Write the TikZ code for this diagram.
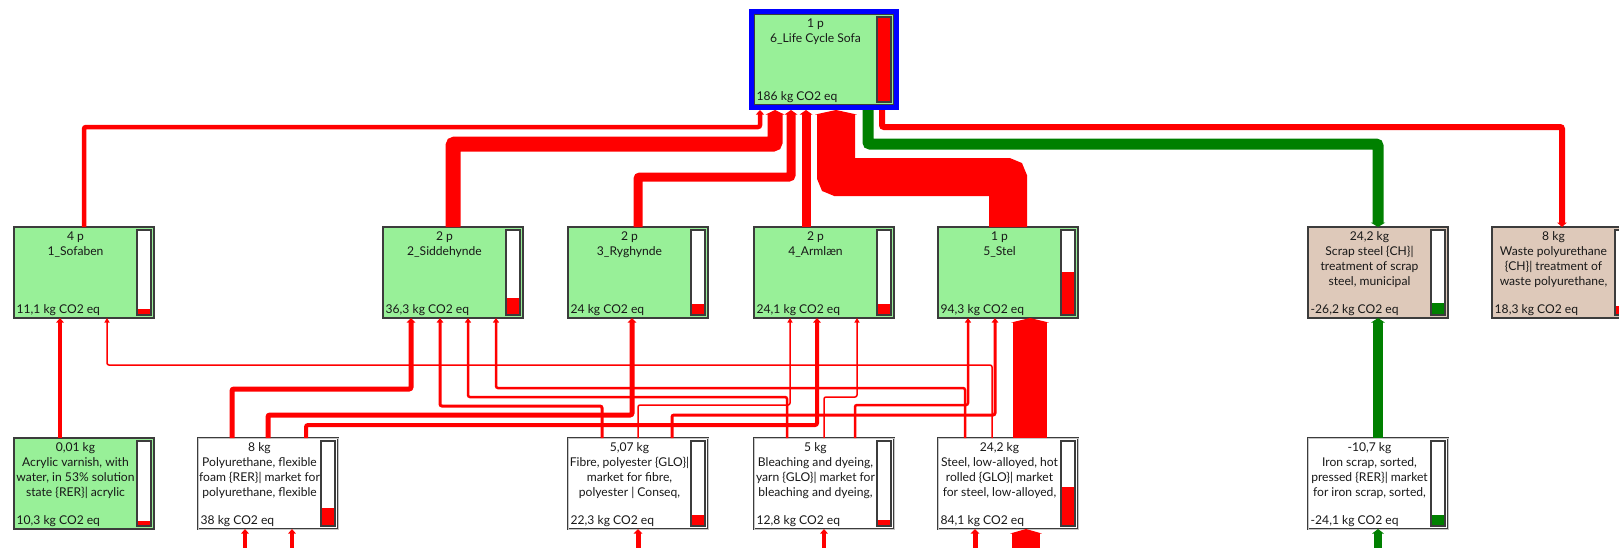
\documentclass[tikz,border=0pt]{standalone}
\usepackage{fontspec}
\setmainfont{Lato}
\usetikzlibrary{arrows.meta,fit}
\definecolor{flowred}{HTML}{FF0000}
\definecolor{flowgreen}{HTML}{008000}
\definecolor{procgreen}{HTML}{98F098}
\definecolor{proctan}{HTML}{DEC9BA}
\definecolor{boxline}{HTML}{3C3C3C}
\definecolor{frameblue}{HTML}{0000FF}
\definecolor{labeltext}{HTML}{181818}

\tikzset{
  proc/.style={draw=boxline, line width=1.4pt, fill=#1, minimum width=140pt,
    minimum height=91pt, inner sep=0pt, outer sep=0pt, anchor=north west},
  input/.style={proc=white, line width=0.7pt, double=white!55!gray, double distance=0.8pt},
  toptext/.style={anchor=north, xshift=-8.5pt, yshift=-4.5pt, inner sep=0pt, align=center,
    text=labeltext, font=\fontsize{12.1}{15}\selectfont, execute at begin node=\strut},
  valtext/.style={anchor=base west, xshift=2.5pt, yshift=4.5pt, inner sep=0pt,
    text=labeltext, font=\fontsize{12.1}{15}\selectfont},
  barline/.style={draw=boxline, line width=1.2pt},
  flow/.style={draw=flowred, line width=#1pt, rounded corners=2pt,
    -{Triangle[length=4.5pt,width=3.5pt 1]}},
  gflow/.style={flow=#1, draw=flowgreen},
}

% impact bar at the right of a box: name, filled height, colour
\newcommand{\impbar}[3]{%
  \draw[barline, fill=white] ([xshift=-17pt,yshift=-3pt]#1.north east) rectangle ([xshift=-3pt,yshift=3pt]#1.south east);
  \fill[#3] ([xshift=-16.4pt,yshift=3.6pt]#1.south east) rectangle ([xshift=-3.6pt,yshift=3.6pt+#2pt]#1.south east);
}

\begin{document}
\begin{tikzpicture}[x=1pt,y=-1pt]
  \useasboundingbox (0,0) rectangle (1619,547);
  \clip (0,0) rectangle (1619,547);

  % whole life cycle
  \node[proc=procgreen, label={[toptext]north:{1 p\\6\_Life Cycle Sofa}},
    label={[valtext]south west:{186 kg CO2 eq}}] (lcs) at (754,14) {};
  \node[fit=(lcs), inner sep=2.5pt, draw=frameblue, line width=5pt] (lcsf) {};
  \impbar{lcs}{83.6}{flowred}

  % assemblies and end of life
  \node[proc=procgreen, label={[toptext]north:{4 p\\1\_Sofaben}},
    label={[valtext]south west:{11,1 kg CO2 eq}}] (sofa) at (14,227) {};
  \node[proc=procgreen, label={[toptext]north:{2 p\\2\_Siddehynde}},
    label={[valtext]south west:{36,3 kg CO2 eq}}] (sidd) at (383,227) {};
  \node[proc=procgreen, label={[toptext]north:{2 p\\3\_Ryghynde}},
    label={[valtext]south west:{24 kg CO2 eq}}] (ryg) at (568,227) {};
  \node[proc=procgreen, label={[toptext]north:{2 p\\4\_Armlæn}},
    label={[valtext]south west:{24,1 kg CO2 eq}}] (arm) at (754,227) {};
  \node[proc=procgreen, label={[toptext]north:{1 p\\5\_Stel}},
    label={[valtext]south west:{94,3 kg CO2 eq}}] (stel) at (938,227) {};
  \node[proc=proctan, label={[toptext]north:{24,2 kg\\Scrap steel \{CH\}|\\treatment of scrap\\steel, municipal}},
    label={[valtext]south west:{-26,2 kg CO2 eq}}] (scrap) at (1308,227) {};
  \node[proc=proctan, label={[toptext]north:{8 kg\\Waste polyurethane\\\{CH\}| treatment of\\waste polyurethane,}},
    label={[valtext]south west:{18,3 kg CO2 eq}}] (waste) at (1492,227) {};
  \impbar{sofa}{5}{flowred}
  \impbar{sidd}{16.4}{flowred}
  \impbar{ryg}{10.8}{flowred}
  \impbar{arm}{10.9}{flowred}
  \impbar{stel}{42.6}{flowred}
  \impbar{scrap}{11.8}{flowgreen}
  \impbar{waste}{8.3}{flowred}

  % materials
  \node[proc=procgreen, label={[toptext]north:{0,01 kg\\Acrylic varnish, with\\water, in 53\% solution\\state \{RER\}| acrylic}},
    label={[valtext]south west:{10,3 kg CO2 eq}}] (acr) at (14,438) {};
  \node[input, label={[toptext]north:{8 kg\\Polyurethane, flexible\\foam \{RER\}| market for\\polyurethane, flexible}},
    label={[valtext]south west:{38 kg CO2 eq}}] (pu) at (198,438) {};
  \node[input, label={[toptext]north:{5,07 kg\\Fibre, polyester \{GLO\}|\\market for fibre,\\polyester | Conseq,}},
    label={[valtext]south west:{22,3 kg CO2 eq}}] (fib) at (568,438) {};
  \node[input, label={[toptext]north:{5 kg\\Bleaching and dyeing,\\yarn \{GLO\}| market for\\bleaching and dyeing,}},
    label={[valtext]south west:{12,8 kg CO2 eq}}] (blea) at (754,438) {};
  \node[input, label={[toptext]north:{24,2 kg\\Steel, low-alloyed, hot\\rolled \{GLO\}| market\\for steel, low-alloyed,}},
    label={[valtext]south west:{84,1 kg CO2 eq}}] (steel) at (938,438) {};
  \node[input, label={[toptext]north:{-10,7 kg\\Iron scrap, sorted,\\pressed \{RER\}| market\\for iron scrap, sorted,}},
    label={[valtext]south west:{-24,1 kg CO2 eq}}] (iron) at (1308,438) {};
  \impbar{acr}{4.7}{flowred}
  \impbar{pu}{17.2}{flowred}
  \impbar{fib}{10.1}{flowred}
  \impbar{blea}{5.8}{flowred}
  \impbar{steel}{38}{flowred}
  \impbar{iron}{10.9}{flowgreen}

  % into the life cycle
  \draw[flow=4.5] (sofa.north) |- ([xshift=-64pt,yshift=-17pt]lcsf.south) -- ([xshift=-64pt]lcsf.south);
  \draw[flow=15] (sidd.north) |- ([xshift=-49pt,yshift=-34pt]lcsf.south) -- ([xshift=-49pt]lcsf.south);
  \draw[flow=9] (ryg.north) |- ([xshift=-33pt,yshift=-67pt]lcsf.south) -- ([xshift=-33pt]lcsf.south);
  \draw[flow=9] ([xshift=-18pt]arm.north) -- ([xshift=-18pt]lcsf.south);
  \draw[flow=38] (stel.north) |- ([xshift=12pt,yshift=-67pt]lcsf.south) -- ([xshift=12pt]lcsf.south);
  \draw[gflow=11] ([xshift=44pt]lcsf.south) |- ([yshift=83pt]scrap.north) -- (scrap.north);
  \draw[flow=6] ([xshift=58pt]lcsf.south) |- ([yshift=100pt]waste.north) -- (waste.north);

  % materials into assemblies
  \draw[flow=4] ([xshift=-24pt]acr.north) -- ([xshift=-24pt]sofa.south);
  \draw[flow=1.5] ([xshift=-16pt]steel.north) |- ([xshift=23pt,yshift=-47pt]sofa.south) -- ([xshift=23pt]sofa.south);
  \draw[flow=5] ([xshift=-36pt]pu.north) |- ([xshift=-42pt,yshift=-71pt]sidd.south) -- ([xshift=-42pt]sidd.south);
  \draw[flow=3] ([xshift=-36pt]fib.north) |- ([xshift=-13pt,yshift=-88pt]sidd.south) -- ([xshift=-13pt]sidd.south);
  \draw[flow=2.5] ([xshift=-37pt]blea.north) |- ([xshift=15pt,yshift=-79pt]sidd.south) -- ([xshift=15pt]sidd.south);
  \draw[flow=2.5] ([xshift=-43pt]steel.north) |- ([xshift=43pt,yshift=-70pt]sidd.south) -- ([xshift=43pt]sidd.south);
  \draw[flow=5] (pu.north) |- ([xshift=-6pt,yshift=-97pt]ryg.south) -- ([xshift=-6pt]ryg.south);
  \draw[flow=1.5] (fib.north) |- ([xshift=-34pt,yshift=-87pt]arm.south) -- ([xshift=-34pt]arm.south);
  \draw[flow=4] ([xshift=38pt]pu.north) |- ([xshift=-7pt,yshift=-107pt]arm.south) -- ([xshift=-7pt]arm.south);
  \draw[flow=1.5] (blea.north) |- ([xshift=33pt,yshift=-79pt]arm.south) -- ([xshift=33pt]arm.south);
  \draw[flow=3] ([xshift=34pt]fib.north) |- ([xshift=-13pt,yshift=-97pt]stel.south) -- ([xshift=-13pt]stel.south);
  \draw[flow=2.5] ([xshift=31pt]blea.north) |- ([xshift=-40pt,yshift=-87pt]stel.south) -- ([xshift=-40pt]stel.south);
  \draw[flow=34] ([xshift=22pt]steel.north) -- ([xshift=22pt]stel.south);
  \draw[gflow=10] (iron.north) -- (scrap.south);

  % inputs from below the view
  \coordinate (puin1) at (245,560);
  \coordinate (puin2) at (292,560);
  \coordinate (fibin) at (638,560);
  \coordinate (bleain) at (824,560);
  \coordinate (steelin1) at (975,560);
  \coordinate (steelin2) at (1026,560);
  \coordinate (ironin) at (1378,560);
  \draw[flow=4] (puin1) -- (puin1 |- pu.south);
  \draw[flow=4] (puin2) -- (puin2 |- pu.south);
  \draw[flow=5] (fibin) -- (fibin |- fib.south);
  \draw[flow=4] (bleain) -- (bleain |- blea.south);
  \draw[flow=5] (steelin1) -- (steelin1 |- steel.south);
  \draw[flow=28] (steelin2) -- (steelin2 |- steel.south);
  \draw[gflow=8] (ironin) -- (ironin |- iron.south);
\end{tikzpicture}
\end{document}
